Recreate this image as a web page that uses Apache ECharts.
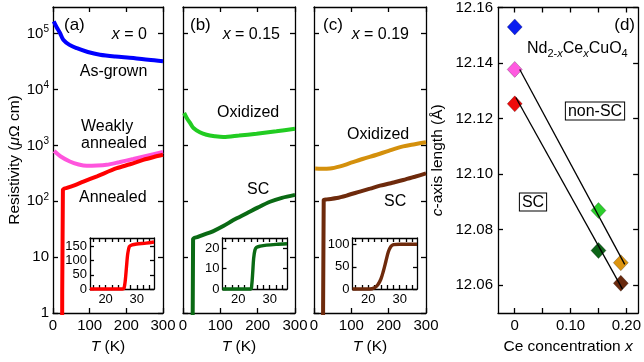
<!DOCTYPE html>
<html><head><meta charset="utf-8">
<script src="https://cdn.jsdelivr.net/npm/echarts@6/dist/echarts.min.js"></script>
<style>html,body{margin:0;padding:0;background:#fff}#c{width:644px;height:362px}</style>
</head><body><div id="c"></div>
<script>
// ---------- DATA ----------
// Panel (a) x = 0
const asGrownT = [2, 10, 19, 28, 45, 65, 95, 128, 170, 219, 260, 300];
const asGrownR = [166000, 130000, 103000, 78000, 63000, 55000, 47000, 42000, 39000, 36700, 34000, 32000];
const weaklyT = [3, 20, 46, 70, 92, 120, 146, 180, 219, 260, 300];
const weaklyR = [790, 640, 515, 455, 430, 435, 450, 500, 570, 660, 760];
const annealedT = [24.5, 27, 40, 60, 83, 120, 174, 210, 246, 275, 300];
const annealedR = [0.01, 160, 175, 195, 225, 280, 390, 460, 550, 620, 680];
// Panel (b) x = 0.15
const oxBT = [3, 10, 20, 28, 45, 63, 85, 108, 150, 197, 250, 300];
const oxBR = [3800, 3100, 2450, 2040, 1720, 1550, 1460, 1410, 1500, 1620, 1790, 1980];
const scBT = [25.5, 27, 40, 54, 80, 108, 135, 171, 200, 233, 265, 300];
const scBR = [0.01, 21, 23, 25, 29, 36, 46, 61, 77, 98, 115, 130];
// Panel (c) x = 0.19
const oxCT = [3, 20, 43, 70, 96, 130, 168, 200, 239, 270, 300];
const oxCR = [385, 382, 385, 420, 480, 570, 680, 800, 960, 1050, 1140];
const scCT = [24, 26, 35, 61, 90, 123, 150, 177, 210, 239, 270, 300];
const scCR = [0.01, 105, 108, 114, 128, 149, 168, 190, 215, 240, 275, 315];
// Insets (linear, T 15-35.5 K)
const insetAT = [15, 25.4, 25.9, 26.3, 26.7, 27.1, 27.6, 28.5, 30, 33, 35.5];
const insetAR = [0, 0, 3, 30, 80, 125, 150, 156, 159, 162, 166];
const insetBT = [15, 24.0, 24.3, 24.6, 24.9, 25.3, 25.8, 27, 29, 32, 35.5];
const insetBR = [0, 0, 2, 8, 15, 19, 20.4, 21, 21.5, 21.9, 22.2];
const insetCT = [15, 20.5, 22, 23, 24, 24.8, 25.6, 26.4, 27.2, 28, 30, 33, 35.5];
const insetCR = [0, 0, 3, 9, 22, 40, 62, 84, 96, 100, 101, 101, 101];
// Panel (d) c-axis length vs Ce concentration
const dX = [0, 0, 0, 0.15, 0.15, 0.19, 0.19];
const dY = [12.153, 12.1377, 12.1253, 12.0869, 12.0725, 12.0681, 12.0607];
const dColors = ['#0a1ef0', '#ff5ae0', '#ee0a0a', '#2ccf2c', '#0d6418', '#dc940f', '#6a2a0e'];
const upperLineX = [0.009, 0.197];
const upperLineY = [12.1377, 12.0675];
const lowerLineX = [0.002, 0.193];
const lowerLineY = [12.1276, 12.0586];
// Tick labels
const mainTTicks = [0, 100, 200, 300];
const logTicks = [1, 10, 100, 1000, 10000, 100000];
const insetTTicks = [16, 18, 20, 22, 24, 26, 28, 30, 32, 34];
const insetTLabels = [20, 30];
const insetATicks = [0, 50, 100, 150];
const insetBTicks = [0, 10, 20];
const insetCTicks = [0, 50, 100];
const dXTicks = [0, 0.05, 0.10, 0.15, 0.20];
const dXLabels = [0, 0.10, 0.20];
const dYTicks = [12.06, 12.08, 12.10, 12.12, 12.14, 12.16];

// ---------- CHART ----------
const FONT = 'Liberation Sans, Arial, Helvetica, sans-serif';
const zip = (a, b) => a.map((v, i) => [v, b[i]]);
const chart = echarts.init(document.getElementById('c'), null, {renderer: 'canvas'});

const grids = [
  {left: 53, top: 7, width: 110, height: 306},
  {left: 183, top: 7, width: 112, height: 306},
  {left: 314, top: 7, width: 112, height: 306},
  {left: 498, top: 7, width: 143, height: 306},
  {left: 90, top: 238, width: 64, height: 51},
  {left: 222.5, top: 238, width: 64.5, height: 51},
  {left: 352.5, top: 238, width: 64.5, height: 51}
].map(g => Object.assign({containLabel: false, show: false}, g));

const lineStyle = {color: '#000', width: 1.3};
function axis(type, g, pos, opts) {
  const o = {
    type: type, gridIndex: g, position: pos,
    min: opts.min, max: opts.max,
    axisLine: {show: true, onZero: false, lineStyle: lineStyle},
    axisTick: {show: true, inside: true, length: opts.tickLen || 5, lineStyle: lineStyle, customValues: opts.ticks},
    axisLabel: {show: !!opts.labels, color: '#000', fontFamily: FONT, fontSize: opts.fontSize || 15,
      margin: opts.margin || 5, customValues: opts.labels || opts.ticks, formatter: opts.formatter,
      rich: {sup: {fontSize: 10, fontFamily: FONT, color: '#000', padding: [0, 0, 9, 0]},
             b: {fontSize: 15, fontFamily: FONT, color: '#000'}}},
    splitLine: {show: false}
  };
  if (opts.logBase) o.logBase = opts.logBase;
  if (opts.name) {
    o.name = opts.name; o.nameLocation = 'middle'; o.nameGap = opts.nameGap;
    o.nameTextStyle = {color: '#000', fontFamily: FONT, fontSize: 15.5,
      rich: {i: {fontStyle: 'italic', fontFamily: FONT, fontSize: 15.5, color: '#000'},
             n: {fontFamily: FONT, fontSize: 15.5, color: '#000'}}};
  }
  return o;
}
const logFmt = v => {
  const e = Math.round(Math.log10(v));
  if (e === 0) return '{b|1}';
  if (e === 1) return '{b|10}';
  return '{b|10}{sup|' + e + '}';
};
const tName = '{i|T}{n| (K)}';

const xAxis = [], yAxis = [];
for (let g = 0; g < 3; g++) {
  xAxis.push(axis('value', g, 'bottom', {min: 0, max: 300, ticks: mainTTicks, labels: mainTTicks, name: tName, nameGap: 26}));
  xAxis.push(axis('value', g, 'top', {min: 0, max: 300, ticks: mainTTicks}));
  yAxis.push(axis('log', g, 'left', {min: 1, max: 300000, logBase: 10, ticks: logTicks,
    labels: g === 0 ? logTicks : null, formatter: logFmt, margin: 4,
    name: g === 0 ? 'Resistivity ({i|μ}Ω cm)' : null, nameGap: 29}));
  yAxis.push(axis('log', g, 'right', {min: 1, max: 300000, logBase: 10, ticks: logTicks}));
}
// panel d
xAxis.push(axis('value', 3, 'bottom', {min: -0.03, max: 0.221, ticks: dXTicks, labels: dXLabels,
  formatter: v => v === 0 ? '0' : v.toFixed(2), name: '{n|Ce concentration }{i|x}', nameGap: 26}));
xAxis.push(axis('value', 3, 'top', {min: -0.03, max: 0.221, ticks: dXTicks}));
yAxis.push(axis('value', 3, 'left', {min: 12.05, max: 12.16, ticks: dYTicks, labels: dYTicks,
  formatter: v => v.toFixed(2), name: '{i|c}{n|-axis length (Å)}', nameGap: 52}));
yAxis.push(axis('value', 3, 'right', {min: 12.05, max: 12.16, ticks: dYTicks}));
// insets
const insetY = [[180, insetATicks], [25, insetBTicks], [115, insetCTicks]];
for (let k = 0; k < 3; k++) {
  const g = 4 + k;
  xAxis.push(axis('value', g, 'bottom', {min: 15, max: 35.5, ticks: insetTTicks, labels: insetTLabels, fontSize: 13, margin: 4, tickLen: 4}));
  xAxis.push(axis('value', g, 'top', {min: 15, max: 35.5, ticks: insetTTicks, tickLen: 4}));
  yAxis.push(axis('value', g, 'left', {min: 0, max: insetY[k][0], ticks: insetY[k][1], labels: insetY[k][1], fontSize: 13, margin: 3, tickLen: 4}));
  yAxis.push(axis('value', g, 'right', {min: 0, max: insetY[k][0], ticks: insetY[k][1], tickLen: 4}));
}

function curve(g, xs, ys, color, w, clip) {
  return {type: 'line', xAxisIndex: 2 * g, yAxisIndex: 2 * g, data: zip(xs, ys),
    showSymbol: false, symbol: 'none', smooth: 0.3, clip: clip !== false,
    lineStyle: {color: color, width: w}, z: 3, silent: true, animation: false};
}

const series = [
  curve(0, asGrownT, asGrownR, '#0000ff', 4),
  curve(0, weaklyT, weaklyR, '#ff55dd', 4),
  curve(0, annealedT, annealedR, '#ff0000', 4),
  curve(1, oxBT, oxBR, '#22cc22', 4),
  curve(1, scBT, scBR, '#0a6a14', 4),
  curve(2, oxCT, oxCR, '#d4900c', 4),
  curve(2, scCT, scCR, '#6e2a0c', 4),
  curve(4, insetAT, insetAR, '#ff0000', 3.4, false),
  curve(5, insetBT, insetBR, '#0a6a14', 3.4, false),
  curve(6, insetCT, insetCR, '#6e2a0c', 3.4, false),
  {type: 'line', xAxisIndex: 6, yAxisIndex: 6, data: zip(upperLineX, upperLineY), showSymbol: false, symbol: 'none',
    lineStyle: {color: '#000', width: 1.3}, z: 4, animation: false},
  {type: 'line', xAxisIndex: 6, yAxisIndex: 6, data: zip(lowerLineX, lowerLineY), showSymbol: false, symbol: 'none',
    lineStyle: {color: '#000', width: 1.3}, z: 4, animation: false},
  {type: 'scatter', xAxisIndex: 6, yAxisIndex: 6, symbol: 'diamond', symbolSize: [15, 16], z: 2, animation: false,
    data: dX.map((x, i) => ({value: [x, dY[i]], itemStyle: {color: dColors[i], opacity: 1, borderColor: 'rgba(0,0,0,0.3)', borderWidth: 0.8}}))}
];

function txt(x, y, text, align, size, extra) {
  const st = {text: text, x: 0, y: 0, fill: '#000', fontFamily: FONT, fontSize: size || 16,
    align: align || 'left', verticalAlign: 'middle',
    rich: {i: {fontStyle: 'italic', fontFamily: FONT, fontSize: size || 16, fill: '#000', color: '#000'},
           n: {fontFamily: FONT, fontSize: size || 16, color: '#000'},
           s: {fontFamily: FONT, fontSize: 11, color: '#000', padding: [9, 0, 0, 0]},
           si: {fontFamily: FONT, fontSize: 11, fontStyle: 'italic', color: '#000', padding: [9, 0, 0, 0]}}};
  Object.assign(st, extra || {});
  return {type: 'text', x: x, y: y, z: 100, style: st, silent: true};
}
const graphic = [
  txt(64, 25, '(a)', 'left', 17),
  txt(147, 35, '{i|x}{n| = 0}', 'right'),
  txt(113.5, 72, 'As-grown', 'center'),
  txt(81, 127, 'Weakly', 'left'),
  txt(81, 144, 'annealed', 'left'),
  txt(79, 198, 'Annealed', 'left'),
  txt(190, 25, '(b)', 'left', 17),
  txt(280, 35, '{i|x}{n| = 0.15}', 'right'),
  txt(217, 113, 'Oxidized', 'left'),
  txt(247, 190, 'SC', 'left'),
  txt(323, 25, '(c)', 'left', 17),
  txt(409, 35, '{i|x}{n| = 0.19}', 'right'),
  txt(347, 135, 'Oxidized', 'left'),
  txt(384, 202, 'SC', 'left'),
  txt(635, 25, '(d)', 'right', 17),
  txt(527, 49, '{n|Nd}{s|2-}{si|x}{n|Ce}{si|x}{n|CuO}{s|4}', 'left'),
  txt(595, 111, 'non-SC', 'center', 16, {borderColor: '#000', borderWidth: 1, padding: [1, 2, 0, 2], backgroundColor: '#fff'}),
  txt(533, 202, 'SC', 'center', 16, {borderColor: '#000', borderWidth: 1, padding: [1, 2, 0, 2], backgroundColor: '#fff'})
];

chart.setOption({
  animation: false,
  backgroundColor: '#fff',
  grid: grids, xAxis: xAxis, yAxis: yAxis, series: series, graphic: graphic
});
</script></body></html>
